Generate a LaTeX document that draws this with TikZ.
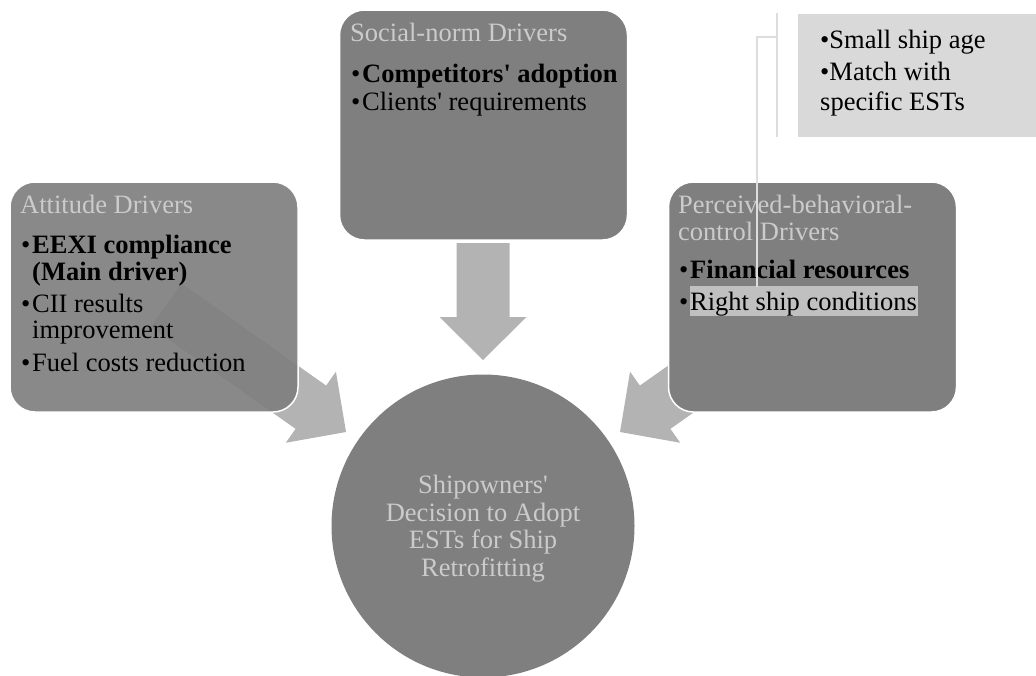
\documentclass[tikz,border=0pt]{standalone}
\usepackage{fontspec}
\setmainfont{Liberation Serif}
\definecolor{boxgray}{HTML}{7F7F7F}
\definecolor{arrgray}{HTML}{B3B3B3}
\definecolor{titlegray}{HTML}{CBCBCB}
\definecolor{notegray}{HTML}{D9D9D9}
\definecolor{hlgray}{HTML}{C0C0C0}
\definecolor{brgray}{HTML}{DDDDDD}
\newcommand\blkarrow[3]{%
  \begin{scope}[shift={(#1)},rotate=#2]
    \fill[arrgray] (0,0) -- (-43,43.5) -- (-43,26.5) -- (-#3,26.5) -- (-#3,-26.5) -- (-43,-26.5) -- (-43,-43.5) -- cycle;
  \end{scope}}
\tikzset{
  drvbox/.style={fill=boxgray, draw=white, line width=1.5pt, rounded corners=25pt, minimum width=288pt, minimum height=230pt, inner sep=0pt},
  txt/.style={anchor=base west, inner sep=0pt, font=\fontsize{26.5}{27}\selectfont},
  ttl/.style={txt, text=titlegray},
  ctxt/.style={anchor=base, inner sep=0pt, font=\fontsize{26.5}{27}\selectfont, text=titlegray},
  bracket/.style={draw=brgray, line width=2pt},
}
\newcommand\bul{\makebox[11pt][l]{\textbullet}}
\newcommand\apos{\textquotesingle}
\begin{document}
\begin{tikzpicture}[x=1pt,y=-1pt]
\useasboundingbox (0,0) rectangle (1036,675);
% arrows (behind boxes)
\blkarrow{346,432}{-35.2}{220}
\blkarrow{620,432}{-144.8}{220}
\blkarrow{483,360}{-90}{117}
% boxes
\node[drvbox, fill opacity=0.92, draw opacity=1] (att) at (154,297) {};
\node[drvbox] (soc) at (483.5,125) {};
\node[drvbox] (pbc) at (812.5,297) {};
% circle
\node[circle, fill=boxgray, minimum size=303pt, inner sep=0pt] (dec) at (483,526) {};
% attitude texts
\node[ttl] (attT) at (20,213) {Attitude Drivers};
\node[txt] (att1) at (21,253) {\bul\textbf{EEXI compliance}};
\node[txt] (att1b) at (32,280) {\textbf{(Main driver)}};
\node[txt] (att2) at (21,312) {\bul CII results};
\node[txt] (att2b) at (32,338) {improvement};
\node[txt] (att3) at (21,371) {\bul Fuel costs reduction};
% social texts
\node[ttl] (socT) at (350,41) {Social-norm Drivers};
\node[txt] (soc1) at (351,82) {\bul\textbf{Competitors\apos\ adoption}};
\node[txt] (soc2) at (351,110) {\bul Clients\apos\ requirements};
% pbc texts
\node[ttl] (pbcT) at (678,213) {Perceived-behavioral-};
\node[ttl] (pbcT2) at (678,240) {control Drivers};
\node[txt] (pbc1) at (679,278) {\bul\textbf{Financial resources}};
\fill[hlgray] (690,286) rectangle (918,316);
\node[txt] (pbc2) at (679,310) {\bul Right ship conditions};
% note box
\node[fill=notegray, minimum width=240pt, minimum height=123pt, inner sep=0pt] (note) at (918,75.5) {};
\node[txt] (n1) at (820,48) {\textbullet Small ship age};
\node[txt] (n2) at (820,80) {\textbullet Match with};
\node[txt] (n3) at (820,110) {specific ESTs};
% bracket
\coordinate (bt) at (777,13);
\coordinate (bb) at (777,137);
\coordinate (bm) at (777,37);
\coordinate (bk) at (757,37);
\coordinate (be) at (757,287);
\draw[bracket] (bt) -- (bb);
\draw[bracket] (bm) -- (bk) -- (be);
% circle text
\node[ctxt] (c1) at (483,493) {Shipowners\apos};
\node[ctxt] (c2) at (483,521) {Decision to Adopt};
\node[ctxt] (c3) at (483,548) {ESTs for Ship};
\node[ctxt] (c4) at (483,576) {Retrofitting};
\end{tikzpicture}
\end{document}
